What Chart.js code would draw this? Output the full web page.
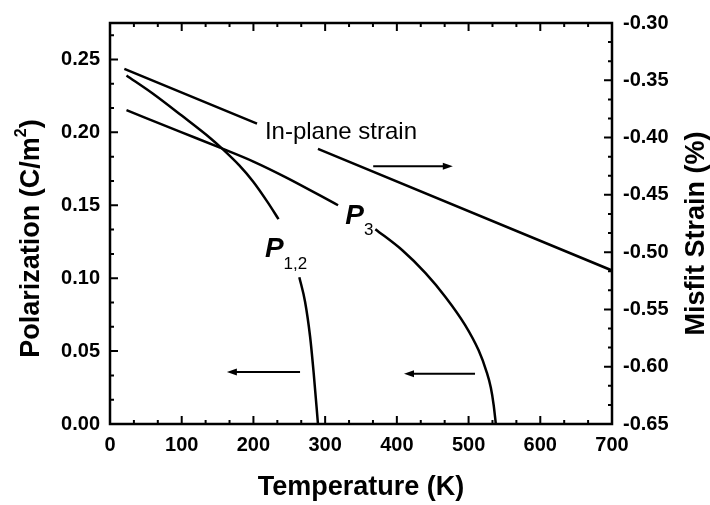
<!DOCTYPE html>
<html>
<head>
<meta charset="utf-8">
<script src="https://cdn.jsdelivr.net/npm/chart.js@4.4.0/dist/chart.umd.min.js"></script>
<style>
  html, body { margin: 0; padding: 0; background: #fff; }
  #wrap { width: 710px; height: 505px; position: relative; }
</style>
</head>
<body>
<div id="wrap"><canvas id="chart"></canvas></div>
<script>
// axis ticks
var tempTicks = [0, 100, 200, 300, 400, 500, 600, 700];
var polTicks = [0, 0.05, 0.10, 0.15, 0.20, 0.25];
var strainTicks = [-0.65, -0.60, -0.55, -0.50, -0.45, -0.40, -0.35, -0.30];

// P1,2 (left axis) - null = gap for the label
var p12Temp = [23, 60, 100, 140, 156, 180, 200, 220, 235, 250, 264, 272, 279, 284, 290];
var p12Val  = [0.239, 0.2265, 0.2115, 0.196, 0.189, 0.1775, 0.166, 0.152, 0.1405, null, 0.1007, 0.0839, 0.060, 0.035, 0.0];

// P3 (left axis)
var p3Temp = [23, 100, 156, 200, 246, 318, 340, 370, 408, 440, 468, 495, 514, 525, 531, 535, 538];
var p3Val  = [0.2152, 0.200, 0.189, 0.180, 0.169, 0.150, null, 0.1336, 0.119, 0.1035, 0.087, 0.068, 0.0505, 0.036, 0.025, 0.013, 0.0];

// in-plane misfit strain (right axis)
var strainTemp = [20, 205, 250, 290, 700];
var strainVal  = [-0.340, -0.3879, null, -0.4099, -0.516];

// arrows: [from T, to T], value on own axis
var strainArrowT = [367, 478], strainArrowV = -0.425;
var p12ArrowT = [265, 163], p12ArrowV = 0.0356;
var p3ArrowT = [509, 410], p3ArrowV = 0.0344;

var FONT = '"Liberation Sans", Arial, Helvetica, sans-serif';

function toXY(xs, ys) {
  return xs.map(function(x, i) { return { x: x, y: ys[i] }; });
}

function drawArrow(ctx, x1, y, x2) {
  var dir = x2 > x1 ? 1 : -1;
  ctx.beginPath();
  ctx.moveTo(x1, y);
  ctx.lineTo(x2 - dir * 8, y);
  ctx.lineWidth = 2;
  ctx.stroke();
  ctx.beginPath();
  ctx.moveTo(x2, y);
  ctx.lineTo(x2 - dir * 10, y - 3.5);
  ctx.lineTo(x2 - dir * 10, y + 3.5);
  ctx.closePath();
  ctx.fill();
}

var framePlugin = {
  id: 'frame',
  afterDraw: function(chart) {
    var ctx = chart.ctx;
    var a = chart.chartArea;
    var sx = chart.scales.x, sy = chart.scales.y, sy2 = chart.scales.y2;
    ctx.save();
    ctx.strokeStyle = '#000';
    ctx.fillStyle = '#000';

    // inward ticks, two minors between majors
    ctx.lineWidth = 2;
    ctx.beginPath();
    var i, v, px, len;
    for (i = 0; i <= 21; i++) {
      v = i * 100 / 3;
      px = sx.getPixelForValue(v);
      len = (i % 3 === 0) ? 8 : 4;
      ctx.moveTo(px, a.bottom); ctx.lineTo(px, a.bottom - len);
      ctx.moveTo(px, a.top); ctx.lineTo(px, a.top + len);
    }
    for (i = 0; i <= 16; i++) {
      v = i * 0.05 / 3;
      if (v > 0.2751) break;
      px = sy.getPixelForValue(v);
      len = (i % 3 === 0) ? 8 : 4;
      ctx.moveTo(a.left, px); ctx.lineTo(a.left + len, px);
    }
    for (i = 0; i <= 21; i++) {
      v = -0.65 + i * 0.05 / 3;
      px = sy2.getPixelForValue(v);
      len = (i % 3 === 0) ? 8 : 4;
      ctx.moveTo(a.right, px); ctx.lineTo(a.right - len, px);
    }
    ctx.stroke();

    // frame
    ctx.lineWidth = 2.5;
    ctx.strokeRect(a.left, a.top, a.right - a.left, a.bottom - a.top);

    // arrows
    var ay = sy2.getPixelForValue(strainArrowV);
    drawArrow(ctx, sx.getPixelForValue(strainArrowT[0]), ay, sx.getPixelForValue(strainArrowT[1]));
    ay = sy.getPixelForValue(p12ArrowV);
    drawArrow(ctx, sx.getPixelForValue(p12ArrowT[0]), ay, sx.getPixelForValue(p12ArrowT[1]));
    ay = sy.getPixelForValue(p3ArrowV);
    drawArrow(ctx, sx.getPixelForValue(p3ArrowT[0]), ay, sx.getPixelForValue(p3ArrowT[1]));

    // curve labels
    ctx.textAlign = 'left';
    ctx.textBaseline = 'alphabetic';
    ctx.font = '24px ' + FONT;
    ctx.fillText('In-plane strain', sx.getPixelForValue(216), sy.getPixelForValue(0.2007) + 8);

    var lx = sx.getPixelForValue(216), ly = sy.getPixelForValue(0.1148);
    ctx.font = 'italic bold 28px ' + FONT;
    ctx.fillText('P', lx, ly);
    var pw = ctx.measureText('P').width;
    ctx.font = '17px ' + FONT;
    ctx.fillText('1,2', lx + pw, ly + 12);

    lx = sx.getPixelForValue(328); ly = sy.getPixelForValue(0.137);
    ctx.font = 'italic bold 28px ' + FONT;
    ctx.fillText('P', lx, ly);
    pw = ctx.measureText('P').width;
    ctx.font = '17px ' + FONT;
    ctx.fillText('3', lx + pw, ly + 11);

    // axis titles
    ctx.font = 'bold 27px ' + FONT;
    ctx.textAlign = 'center';
    ctx.textBaseline = 'middle';
    ctx.fillText('Temperature (K)', (a.left + a.right) / 2, a.bottom + 64);

    // left title with superscript
    ctx.save();
    ctx.translate(a.left - 78, (a.top + a.bottom) / 2 + 15);
    ctx.rotate(-Math.PI / 2);
    ctx.textAlign = 'left';
    var t1 = 'Polarization (C/m';
    ctx.font = 'bold 27px ' + FONT;
    var w1 = ctx.measureText(t1).width;
    var w3 = ctx.measureText(')').width;
    ctx.font = 'bold 16px ' + FONT;
    var w2 = ctx.measureText('2').width;
    var x0 = -(w1 + w2 + w3) / 2;
    ctx.font = 'bold 27px ' + FONT;
    ctx.fillText(t1, x0, 0);
    ctx.fillText(')', x0 + w1 + w2, 0);
    ctx.font = 'bold 16px ' + FONT;
    ctx.fillText('2', x0 + w1, -10);
    ctx.restore();

    ctx.save();
    ctx.translate(a.right + 85, (a.top + a.bottom) / 2 + 10);
    ctx.rotate(-Math.PI / 2);
    ctx.font = 'bold 27px ' + FONT;
    ctx.textAlign = 'center';
    ctx.fillText('Misfit Strain (%)', 0, 0);
    ctx.restore();

    ctx.restore();
  }
};

var lineStyle = { borderColor: '#000', borderWidth: 2.5, pointRadius: 0, fill: false, spanGaps: false };

var ctx = document.getElementById('chart').getContext('2d');
var chart = new Chart(ctx, {
  type: 'line',
  data: {
    datasets: [
      Object.assign({ label: 'P12', data: toXY(p12Temp, p12Val), yAxisID: 'y', cubicInterpolationMode: 'monotone' }, lineStyle),
      Object.assign({ label: 'P3', data: toXY(p3Temp, p3Val), yAxisID: 'y', cubicInterpolationMode: 'monotone' }, lineStyle),
      Object.assign({ label: 'In-plane strain', data: toXY(strainTemp, strainVal), yAxisID: 'y2', tension: 0 }, lineStyle)
    ]
  },
  options: {
    responsive: true,
    maintainAspectRatio: false,
    animation: false,
    layout: { padding: { top: 15, left: 0, right: 0, bottom: 0 } },
    plugins: { legend: { display: false }, tooltip: { enabled: false } },
    scales: {
      x: {
        type: 'linear', position: 'bottom', min: 0, max: 700,
        afterBuildTicks: function(s) { s.ticks = tempTicks.map(function(v) { return { value: v }; }); },
        afterFit: function(s) { s.height = 81; },
        grid: { display: false, drawTicks: false },
        border: { display: false },
        ticks: { color: '#000', padding: 9, maxRotation: 0, autoSkip: false, font: { family: FONT, size: 20, weight: 'bold' } }
      },
      y: {
        type: 'linear', position: 'left', min: 0, max: 0.275,
        afterBuildTicks: function(s) { s.ticks = polTicks.map(function(v) { return { value: v }; }); },
        afterFit: function(s) { s.width = 110; },
        grid: { display: false, drawTicks: false },
        border: { display: false },
        ticks: { color: '#000', padding: 10, font: { family: FONT, size: 20, weight: 'bold' }, callback: function(v) { return v.toFixed(2); } }
      },
      y2: {
        type: 'linear', position: 'right', min: -0.65, max: -0.30,
        afterBuildTicks: function(s) { s.ticks = strainTicks.map(function(v) { return { value: v }; }); },
        afterFit: function(s) { s.width = 98; },
        grid: { display: false, drawTicks: false },
        border: { display: false },
        ticks: { color: '#000', padding: 11, font: { family: FONT, size: 20, weight: 'bold' }, callback: function(v) { return v.toFixed(2); } }
      }
    }
  },
  plugins: [framePlugin]
});
</script>
</body>
</html>
